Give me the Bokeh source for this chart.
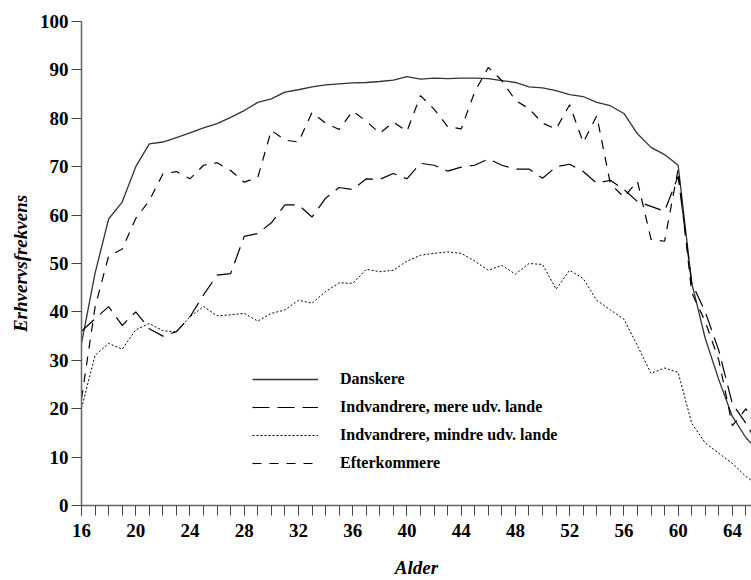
from bokeh.plotting import figure
from bokeh.models import Range1d, FixedTicker, Legend, LegendItem, ColumnDataSource
from bokeh.embed import file_html
from bokeh.resources import INLINE

ages = list(range(16, 67))

danskere = [33.5, 48, 59.2, 62.7, 70, 74.7, 75.1, 76, 77, 78,
            78.9, 80.2, 81.6, 83.3, 84, 85.4, 85.9, 86.5, 86.9, 87.1,
            87.3, 87.4, 87.6, 87.9, 88.6, 88.1, 88.3, 88.2, 88.3, 88.3,
            88.2, 87.8, 87.4, 86.5, 86.3, 85.7, 84.9, 84.5, 83.3, 82.6,
            81, 76.8, 74, 72.5, 70.3, 46, 34.5, 26, 18.4, 14, 11]

mere_udv = [36, 38.6, 41.1, 37.2, 40, 36.5, 35, 35.9, 39, 43.5,
            47.6, 47.9, 55.6, 56.2, 58.4, 62.1, 62.1, 59.6, 63.5, 65.7,
            65.3, 67.5, 67.4, 68.6, 67.5, 70.7, 70.3, 69.1, 69.9, 70.3,
            71.6, 70.3, 69.5, 69.5, 67.6, 70, 70.5, 69, 66.6, 67.2,
            65.3, 62.8, 61.8, 60.8, 68, 46, 40, 32, 21, 17, 12]

mindre_udv = [20.1, 31, 33.5, 32.3, 36.3, 37.6, 36.1, 35.9, 39, 41.1,
              39.2, 39.4, 39.7, 38.1, 39.7, 40.4, 42.4, 41.8, 44.2, 46,
              45.9, 48.8, 48.3, 48.6, 50.5, 51.7, 52.1, 52.4, 52.1, 50.5,
              48.6, 49.6, 47.8, 50, 49.8, 44.7, 48.6, 46.9, 42.4, 40.4,
              38.5, 33, 27.3, 28.4, 27.5, 17, 12.9, 10.8, 8.7, 6, 4]

efterkommere = [22, 41, 51.5, 53, 59.3, 63, 68.5, 69, 67.5, 70.3,
                70.8, 69.2, 66.8, 67.8, 77.5, 75.5, 75.1, 81.2, 79, 77.7,
                81.5, 79.4, 76.9, 79.2, 77.3, 84.7, 81.9, 78.3, 77.8, 85.5,
                90.5, 87.8, 83.7, 82, 79, 77.8, 82.8, 75, 80.5, 66.5,
                63.7, 67, 55, 54.6, 69.5, 44, 38, 30, 16.5, 20, 15]

labels = ["Danskere", "Indvandrere, mere udv. lande",
          "Indvandrere, mindre udv. lande", "Efterkommere"]
y_ticks = list(range(0, 101, 10))
x_major = list(range(16, 65, 4))
x_minor = list(range(16, 66))

src = ColumnDataSource(dict(age=ages, d=danskere, m=mere_udv, n=mindre_udv, e=efterkommere))

p = figure(width=751, height=580, x_range=Range1d(16, 65.41), y_range=Range1d(0, 100),
           output_backend="svg", toolbar_location=None,
           min_border_left=81, min_border_right=0, min_border_top=21, min_border_bottom=74)
p.outline_line_color = None
p.xgrid.grid_line_color = None
p.ygrid.grid_line_color = None
p.background_fill_color = "white"
p.border_fill_color = "white"

r1 = p.line("age", "d", source=src, line_color="#333333", line_width=1.3)
r2 = p.line("age", "m", source=src, line_color="black", line_width=1.2, line_dash="17 8")
r3 = p.line("age", "n", source=src, line_color="black", line_width=1.0, line_dash="2 2")
r4 = p.line("age", "e", source=src, line_color="black", line_width=1.2, line_dash="9 8")

FONT = "Liberation Serif"
for ax in (p.xaxis[0], p.yaxis[0]):
    ax.axis_line_color = "#666666"
    ax.axis_line_width = 1.5
    ax.major_tick_line_color = "#444444"
    ax.minor_tick_line_color = "#444444"
    ax.major_tick_in = 0
    ax.minor_tick_in = 0
    ax.major_label_text_font = FONT
    ax.major_label_text_font_style = "bold"
    ax.major_label_text_font_size = "19px"
    ax.major_label_text_color = "black"
    ax.axis_label_text_font = FONT
    ax.axis_label_text_font_style = "bold italic"
    ax.axis_label_text_font_size = "19px"
    ax.axis_label_text_color = "black"

p.xaxis[0].ticker = FixedTicker(ticks=x_major, minor_ticks=x_minor)
p.xaxis[0].major_tick_out = 10
p.xaxis[0].minor_tick_out = 10
p.xaxis[0].major_label_standoff = 8
p.xaxis[0].axis_label = "Alder"
p.xaxis[0].axis_label_standoff = 17

p.yaxis[0].ticker = FixedTicker(ticks=y_ticks, minor_ticks=[])
p.yaxis[0].major_tick_out = 10
p.yaxis[0].minor_tick_out = 0
p.yaxis[0].major_label_standoff = 3
p.yaxis[0].axis_label = "Erhvervsfrekvens"
p.yaxis[0].axis_label_standoff = 6

legend = Legend(items=[LegendItem(label=labels[0], renderers=[r1]),
                       LegendItem(label=labels[1], renderers=[r2]),
                       LegendItem(label=labels[2], renderers=[r3]),
                       LegendItem(label=labels[3], renderers=[r4])],
                location=(171, 33))
legend.background_fill_alpha = 0
legend.border_line_color = None
legend.padding = 0
legend.margin = 0
legend.spacing = 10
legend.glyph_width = 66
legend.glyph_height = 18
legend.label_height = 18
legend.label_standoff = 22
legend.label_text_font = FONT
legend.label_text_font_style = "bold"
legend.label_text_font_size = "16px"
legend.label_text_color = "black"
p.add_layout(legend)

open("out.html", "w").write(file_html(p, INLINE))
